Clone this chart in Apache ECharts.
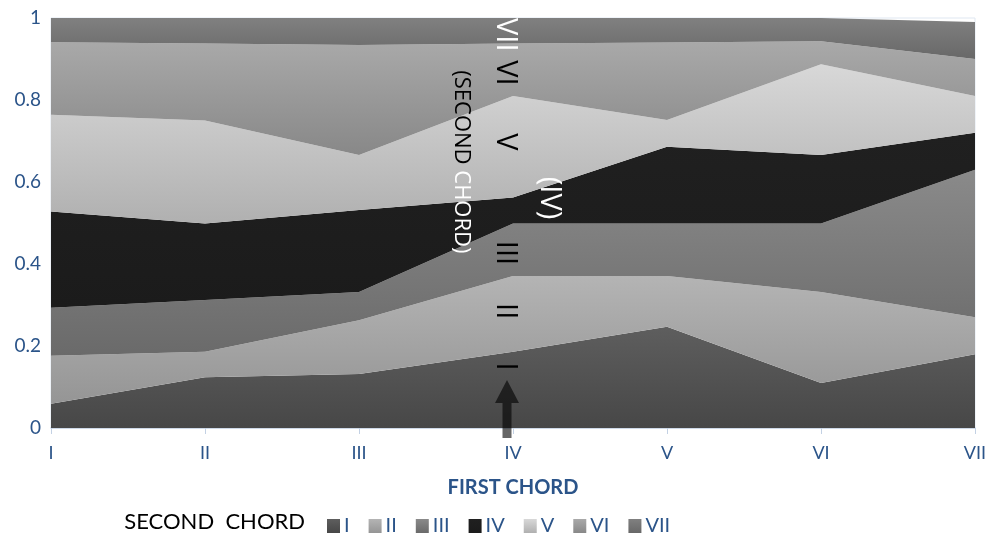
<!DOCTYPE html>
<html>
<head>
<meta charset="utf-8">
<script src="https://cdn.jsdelivr.net/npm/echarts@6/dist/echarts.min.js"></script>
<style>
  html, body { margin: 0; padding: 0; background: #ffffff; }
  #chart { width: 995px; height: 539px; }
</style>
</head>
<body>
<div id="chart"></div>
<script>
// First chord of each transition (x axis)
const categories = ['I', 'II', 'III', 'IV', 'V', 'VI', 'VII'];
// Second chord names (stacked series, bottom to top)
const secondChords = ['I', 'II', 'III', 'IV', 'V', 'VI', 'VII'];
// Share of each second chord following the given first chord
const chordI   = [0.059, 0.124, 0.132, 0.186, 0.247, 0.110, 0.18];
const chordII  = [0.117, 0.062, 0.131, 0.185, 0.124, 0.222, 0.09];
const chordIII = [0.117, 0.126, 0.069, 0.128, 0.128, 0.167, 0.36];
const chordIV  = [0.235, 0.187, 0.200, 0.063, 0.187, 0.167, 0.09];
const chordV   = [0.236, 0.251, 0.134, 0.248, 0.065, 0.221, 0.09];
const chordVI  = [0.177, 0.188, 0.268, 0.128, 0.189, 0.056, 0.09];
const chordVII = [0.059, 0.062, 0.066, 0.062, 0.060, 0.057, 0.09];
const yTicks = [0, 0.2, 0.4, 0.6, 0.8, 1];

const seriesValues = [chordI, chordII, chordIII, chordIV, chordV, chordVI, chordVII];

// Grey shades per band (top colour, bottom colour)
const shades = [
  ['#5e5e5e', '#474747'],
  ['#b4b4b4', '#959595'],
  ['#8a8a8a', '#6a6a6a'],
  ['#202020', '#1b1b1b'],
  ['#d8d8d8', '#b0b0b0'],
  ['#a9a9a9', '#888888'],
  ['#808080', '#686868']
];

const blue = '#2b5489';
const fontFamily = 'Lato, "Open Sans", sans-serif';

function grad(pair) {
  return new echarts.graphic.LinearGradient(0, 0, 0, 1, [
    { offset: 0, color: pair[0] },
    { offset: 1, color: pair[1] }
  ]);
}

const chart = echarts.init(document.getElementById('chart'), null, { renderer: 'canvas' });

const series = secondChords.map((name, i) => ({
  name: name,
  type: 'line',
  stack: 'total',
  data: seriesValues[i],
  symbol: 'none',
  showSymbol: false,
  lineStyle: { width: 0, opacity: 0 },
  itemStyle: { color: grad(shades[i]) },
  areaStyle: { color: grad(shades[i]), opacity: 1 },
  emphasis: { disabled: true },
  animation: false
}));

chart.setOption({
  animation: false,
  textStyle: { fontFamily: fontFamily },
  grid: {
    left: 51, right: 20, top: 18, bottom: 111,
    show: true, borderColor: '#dfe7f1', borderWidth: 1, backgroundColor: 'transparent'
  },
  legend: {
    data: secondChords,
    left: 322,
    top: 511,
    icon: 'rect',
    itemWidth: 13,
    itemHeight: 14,
    itemGap: 19,
    textStyle: { color: blue, fontSize: 20, fontFamily: fontFamily, padding: [0, 0, 0, -1] },
    selectedMode: false
  },
  xAxis: {
    type: 'category',
    data: categories,
    boundaryGap: false,
    axisLine: { show: true, lineStyle: { color: '#c3d1e4', width: 1.5 } },
    axisTick: { show: true, alignWithLabel: true, length: 6, lineStyle: { color: '#c3d1e4' } },
    axisLabel: { color: blue, fontSize: 18, margin: 16, fontFamily: fontFamily },
    name: 'FIRST CHORD',
    nameLocation: 'middle',
    nameGap: 50,
    nameTextStyle: { color: blue, fontSize: 20, fontWeight: 'bold', fontFamily: fontFamily }
  },
  yAxis: {
    type: 'value',
    min: yTicks[0],
    max: yTicks[yTicks.length - 1],
    interval: 0.2,
    splitLine: { show: false },
    axisLine: { show: false },
    axisTick: { show: false },
    axisLabel: { color: blue, fontSize: 19, margin: 10, fontFamily: fontFamily }
  },
  series: series
});

// Annotations along the IV column
const anchor = chart.convertToPixel({ gridIndex: 0 }, ['IV', 0]);
const yOf = v => chart.convertToPixel({ gridIndex: 0 }, ['IV', v])[1];
const ax = anchor[0];
const ay = anchor[1];

const numeralFont = '29px "Open Sans", sans-serif';
function vText(text, x, y, color, font) {
  return {
    type: 'text',
    x: x, y: y,
    rotation: -Math.PI / 2,
    silent: true,
    style: {
      text: text,
      fill: color,
      font: font || numeralFont,
      align: 'center',
      verticalAlign: 'middle'
    },
    z: 100
  };
}

const graphics = [
  vText('VII', ax - 8, yOf(0.959), '#ffffff'),
  vText('VI', ax - 8, yOf(0.866), '#000000'),
  vText('V', ax - 8, yOf(0.698), '#000000'),
  vText('III', ax - 8, yOf(0.427), '#000000'),
  vText('II', ax - 8, yOf(0.285), '#000000'),
  vText('I', ax - 8, yOf(0.150), '#000000'),
  vText('(IV)', ax + 36, yOf(0.561), '#ffffff'),
  {
    type: 'text',
    x: ax - 52, y: yOf(0.649),
    rotation: -Math.PI / 2,
    silent: true,
    style: {
      text: '{a|(SECOND }{b|CHORD)}',
      font: '22px "Open Sans", sans-serif',
      align: 'center',
      verticalAlign: 'middle',
      rich: {
        a: { fill: '#000000', color: '#000000', font: '22px "Open Sans", sans-serif' },
        b: { fill: '#ffffff', color: '#ffffff', font: '22px "Open Sans", sans-serif' }
      }
    },
    z: 100
  },
  // Arrow pointing up at the IV column
  {
    type: 'polygon',
    silent: true,
    shape: {
      points: [
        [ax - 6, ay - 48],
        [ax + 6, ay - 25],
        [ax - 1.5, ay - 25],
        [ax - 1.5, ay + 10],
        [ax - 10.5, ay + 10],
        [ax - 10.5, ay - 25],
        [ax - 18, ay - 25]
      ]
    },
    style: { fill: '#000000', opacity: 0.6 },
    z: 100
  },
  // Legend title
  {
    type: 'text',
    x: 305, y: 522,
    silent: true,
    style: {
      text: 'SECOND  CHORD',
      fill: '#000000',
      font: '22px Lato, "Open Sans", sans-serif',
      align: 'right',
      verticalAlign: 'middle'
    }
  }
];

chart.setOption({ graphic: graphics });
</script>
</body>
</html>
